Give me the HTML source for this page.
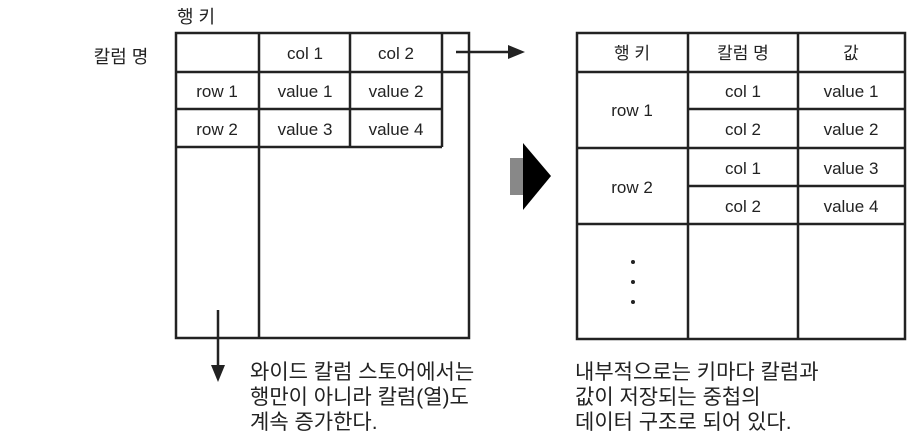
<!DOCTYPE html>
<html><head><meta charset="utf-8"><style>
body{margin:0;background:#fff;}
svg text{font-family:"Liberation Sans","Noto Sans CJK KR",sans-serif;fill:#222;}
</style></head><body>
<svg width="922" height="441" viewBox="0 0 922 441" xmlns="http://www.w3.org/2000/svg">
<g stroke="#222" stroke-width="2.5" fill="none">
<rect x="176" y="33" width="293" height="305"/>
<line x1="176" y1="72" x2="469" y2="72"/>
<line x1="176" y1="109" x2="442" y2="109"/>
<line x1="176" y1="147" x2="442" y2="147"/>
<line x1="259" y1="33" x2="259" y2="338"/>
<line x1="350" y1="33" x2="350" y2="147"/>
<line x1="442" y1="33" x2="442" y2="147"/>
<rect x="577" y="33" width="328" height="306"/>
<line x1="577" y1="72" x2="905" y2="72"/>
<line x1="688" y1="109" x2="905" y2="109"/>
<line x1="577" y1="148" x2="905" y2="148"/>
<line x1="688" y1="186" x2="905" y2="186"/>
<line x1="577" y1="224" x2="905" y2="224"/>
<line x1="688" y1="33" x2="688" y2="339"/>
<line x1="798" y1="33" x2="798" y2="339"/>
<line x1="456" y1="52" x2="512" y2="52"/>
<line x1="218" y1="310" x2="218" y2="368"/>
</g>
<polygon points="508,45 525,52 508,59" fill="#222"/>
<polygon points="211,365 225,365 218,382" fill="#222"/>
<rect x="510" y="158" width="14" height="37" fill="#888"/>
<polygon points="523,143 551,176 523,210" fill="#000"/>
<circle cx="633" cy="262" r="2" fill="#222"/>
<circle cx="633" cy="282" r="2" fill="#222"/>
<circle cx="633" cy="302" r="2" fill="#222"/>
<g font-size="18" text-anchor="middle">
<text x="196" y="23">행 키</text>
<text x="121" y="63">칼럼 명</text>
</g>
<g font-size="17" text-anchor="middle">
<text x="305" y="59">col 1</text>
<text x="396" y="59">col 2</text>
<text x="217" y="97">row 1</text>
<text x="305" y="97">value 1</text>
<text x="396" y="97">value 2</text>
<text x="217" y="135">row 2</text>
<text x="305" y="135">value 3</text>
<text x="396" y="135">value 4</text>
<text x="632" y="59">행 키</text>
<text x="743" y="59">칼럼 명</text>
<text x="851" y="59">값</text>
<text x="632" y="116">row 1</text>
<text x="632" y="193">row 2</text>
<text x="743" y="97">col 1</text>
<text x="743" y="135">col 2</text>
<text x="743" y="174">col 1</text>
<text x="743" y="212">col 2</text>
<text x="851" y="97">value 1</text>
<text x="851" y="135">value 2</text>
<text x="851" y="174">value 3</text>
<text x="851" y="212">value 4</text>
</g>
<g font-size="21">
<text x="250" y="379">와이드 칼럼 스토어에서는</text>
<text x="250" y="404">행만이 아니라 칼럼(열)도</text>
<text x="250" y="429">계속 증가한다.</text>
<text x="575" y="379">내부적으로는 키마다 칼럼과</text>
<text x="575" y="404">값이 저장되는 중첩의</text>
<text x="575" y="429">데이터 구조로 되어 있다.</text>
</g>
</svg>
</body></html>
